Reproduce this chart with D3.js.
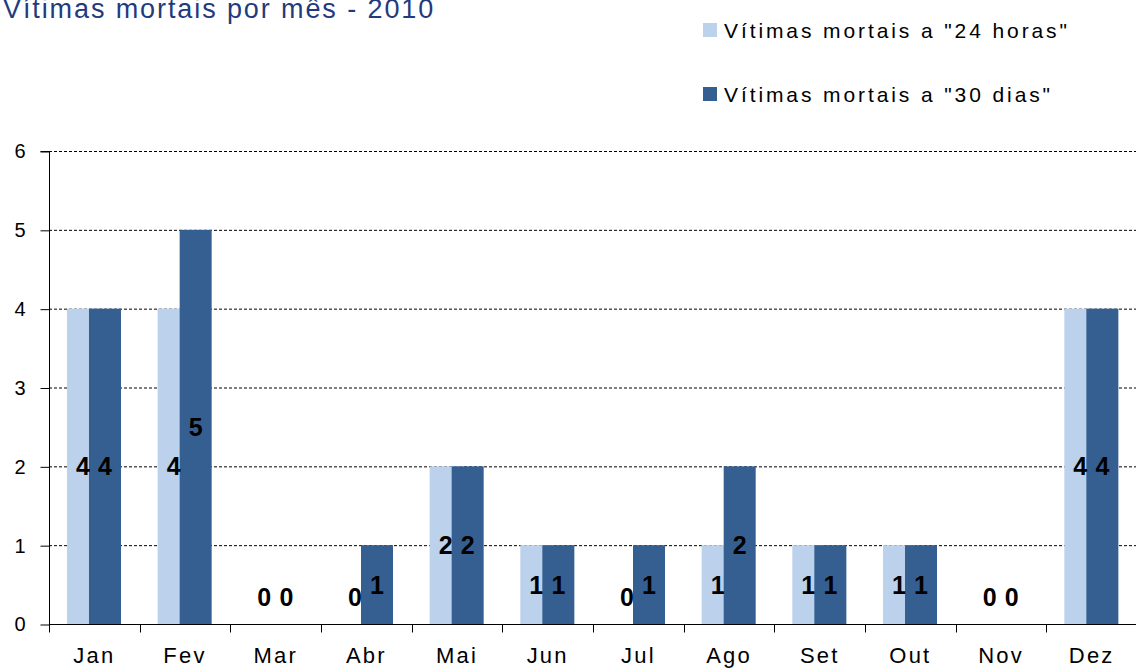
<!DOCTYPE html>
<html><head><meta charset="utf-8">
<script src="https://cdn.jsdelivr.net/npm/d3@7"></script>
<style>body{margin:0;background:#fff}svg{display:block}text{font-family:Arial,"Liberation Sans",sans-serif}</style>
</head><body>
<script>
const months = ["Jan","Fev","Mar","Abr","Mai","Jun","Jul","Ago","Set","Out","Nov","Dez"];
const vit24h = [4,4,0,0,2,1,0,1,1,1,0,4];
const vit30d = [4,5,0,1,2,1,1,2,1,1,0,4];
const seriesNames = ['Vítimas mortais a "24 horas"','Vítimas mortais a "30 dias"'];
const seriesColors = ["#BCD1EC","#355F91"];
const yTicks = [0,1,2,3,4,5,6];
const title = "Vítimas mortais por mês - 2010";

(function(){
const W = 1136, H = 669;
const svg = d3.select("body").append("svg").attr("width",W).attr("height",H);
const left = 49, bottom = 624, plotTop = 151, bandW = 90.67;
const x = d3.scaleBand().domain(months).range([left, left + bandW*12]);
const y = d3.scaleLinear().domain([0,6]).range([bottom, plotTop]);

// title
svg.append("text").attr("x",3).attr("y",18).attr("fill","#1F3B7E")
  .style("font-size","27px").style("letter-spacing","1.9px").text(title);

// gridlines
svg.append("g").selectAll("line").data(yTicks.filter(d=>d>0)).join("line")
  .attr("x1",left).attr("x2",W).attr("y1",d=>y(d)+0.5).attr("y2",d=>y(d)+0.5)
  .attr("stroke","#000").attr("stroke-width",1).attr("stroke-dasharray","3,2");

// bars
const bw = x.bandwidth()*0.353;
const off = [x.bandwidth()*0.198, x.bandwidth()*0.441];
const series = [vit24h, vit30d];
series.forEach((vals,si)=>{
  svg.append("g").selectAll("rect").data(vals).join("rect")
    .attr("x",(d,i)=>x(months[i])+off[si]).attr("width",bw)
    .attr("y",d=>y(d)).attr("height",d=>y(0)-y(d))
    .attr("fill",seriesColors[si]);
});

// y axis
const yAxis = d3.axisLeft(y).tickValues(yTicks).tickSize(9).tickPadding(15).tickFormat(d3.format("d"));
const gy = svg.append("g").attr("transform",`translate(${left+0.5},0.5)`).call(yAxis);
gy.selectAll("text").style("font-size","20px").attr("fill","#000");
gy.select(".domain").attr("d",`M-9,${y(6)}H0V${y(0)}`).attr("stroke","#000");
gy.selectAll(".tick line").attr("stroke","#000");

// x axis
const xAxis = d3.axisBottom(x).tickSize(0).tickPadding(0);
const gx = svg.append("g").attr("transform",`translate(0,${bottom+0.5})`).call(xAxis);
gx.select(".domain").attr("d",`M${left},0H${W}`).attr("stroke","#000");
gx.selectAll(".tick text").attr("y",38.5).attr("dy","0").style("font-size","22px")
  .style("letter-spacing","2.2px").attr("fill","#000");
gx.append("g").selectAll("line").data(months).join("line")
  .attr("x1",d=>Math.round(x(d))+0.5).attr("x2",d=>Math.round(x(d))+0.5)
  .attr("y1",0).attr("y2",8).attr("stroke","#000");

// data labels
series.forEach((vals,si)=>{
  svg.append("g").selectAll("text").data(vals).join("text")
    .attr("x",(d,i)=>x(months[i])+off[si]+bw/2)
    .attr("y",d=>Math.min(y(d/2), y(0)-27))
    .attr("dy","0.36em").attr("text-anchor","middle")
    .style("font-size","25px").style("font-weight","bold").attr("fill","#000")
    .text(d=>d);
});

// legend
const lg = svg.append("g");
seriesNames.forEach((n,i)=>{
  const ly = 23 + i*64;
  lg.append("rect").attr("x",703).attr("y",ly).attr("width",14).attr("height",14).attr("fill",seriesColors[i]);
  lg.append("text").attr("x",724).attr("y",ly+15).style("font-size","21px")
    .style("letter-spacing","2.9px").attr("fill","#000").text(n);
});
})();
</script>
</body></html>
